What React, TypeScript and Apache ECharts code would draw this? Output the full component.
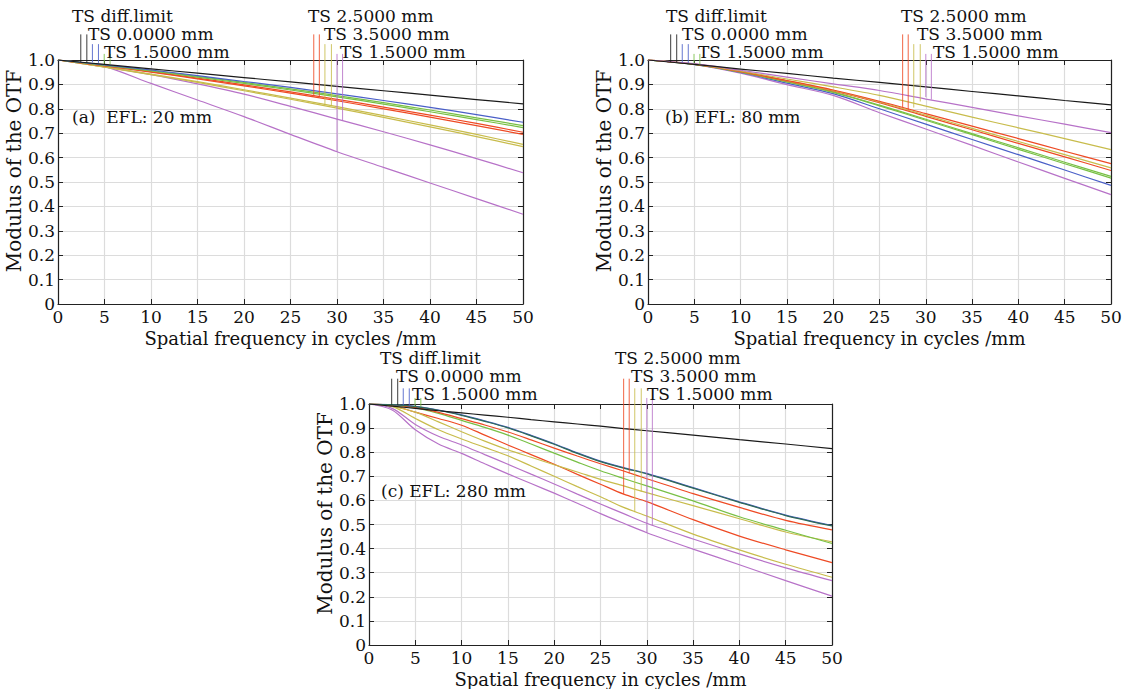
import React, { useEffect, useRef } from "react";
import * as echarts from "echarts";

// ---------- data ----------
const xA = [0, 5, 10, 15, 20, 25, 30, 35, 40, 45, 50];
const aDiff = [1, 0.982, 0.964, 0.946, 0.928, 0.910, 0.892, 0.874, 0.856, 0.838, 0.82];
const aBlue = [1, 0.980, 0.959, 0.936, 0.912, 0.888, 0.861, 0.834, 0.806, 0.776, 0.745];
const aGreen1 = [1, 0.979, 0.957, 0.933, 0.908, 0.882, 0.854, 0.825, 0.795, 0.763, 0.731];
const aGreen2 = [1, 0.978, 0.955, 0.930, 0.904, 0.877, 0.849, 0.819, 0.788, 0.756, 0.723];
const aRed1 = [1, 0.977, 0.952, 0.926, 0.898, 0.869, 0.839, 0.807, 0.774, 0.740, 0.704];
const aRed2 = [1, 0.976, 0.950, 0.923, 0.894, 0.864, 0.833, 0.800, 0.766, 0.731, 0.695];
const aYellow1 = [1, 0.972, 0.942, 0.911, 0.878, 0.844, 0.809, 0.772, 0.734, 0.695, 0.654];
const aYellow2 = [1, 0.971, 0.940, 0.908, 0.874, 0.839, 0.803, 0.765, 0.726, 0.686, 0.645];
const aPurple1 = [1, 0.972, 0.940, 0.902, 0.860, 0.810, 0.758, 0.706, 0.652, 0.596, 0.538];
const aPurple2 = [1, 0.973, 0.904, 0.836, 0.768, 0.695, 0.624, 0.560, 0.496, 0.432, 0.368];

const xB = [0, 5, 10, 15, 20, 25, 30, 35, 40, 45, 50];
const bDiff = [1, 0.982, 0.963, 0.945, 0.926, 0.908, 0.890, 0.871, 0.853, 0.834, 0.816];
const bPurple1 = [1, 0.985, 0.958, 0.930, 0.902, 0.875, 0.840, 0.806, 0.771, 0.737, 0.702];
const bYellow1 = [1, 0.984, 0.955, 0.922, 0.890, 0.855, 0.811, 0.766, 0.722, 0.678, 0.633];
const bRed1 = [1, 0.983, 0.953, 0.916, 0.877, 0.831, 0.780, 0.729, 0.678, 0.626, 0.575];
const bYellow2 = [1, 0.983, 0.953, 0.915, 0.875, 0.828, 0.774, 0.720, 0.666, 0.612, 0.558];
const bRed2 = [1, 0.983, 0.952, 0.914, 0.873, 0.825, 0.769, 0.714, 0.658, 0.603, 0.547];
const bGreen1 = [1, 0.982, 0.951, 0.911, 0.869, 0.815, 0.757, 0.698, 0.640, 0.581, 0.523];
const bGreen2 = [1, 0.982, 0.950, 0.910, 0.867, 0.812, 0.753, 0.694, 0.634, 0.575, 0.516];
const bBlue = [1, 0.982, 0.949, 0.905, 0.862, 0.800, 0.737, 0.674, 0.612, 0.549, 0.486];
const bPurple2 = [1, 0.981, 0.946, 0.899, 0.855, 0.784, 0.717, 0.650, 0.582, 0.515, 0.448];

const xC = [0, 2.5, 5, 7.5, 10, 12.5, 15, 17.5, 20, 22.5, 25, 27.5, 30, 35, 40, 45, 50];
const cDiff = [1, 0.991, 0.982, 0.972, 0.963, 0.954, 0.945, 0.935, 0.926, 0.917, 0.908, 0.898, 0.889, 0.871, 0.852, 0.834, 0.815];
const cBlue = [1, 0.997, 0.990, 0.975, 0.955, 0.930, 0.903, 0.870, 0.835, 0.797, 0.763, 0.736, 0.712, 0.653, 0.594, 0.539, 0.496];
const cGreen1 = [1, 0.997, 0.989, 0.974, 0.953, 0.928, 0.901, 0.868, 0.833, 0.795, 0.761, 0.734, 0.710, 0.651, 0.592, 0.537, 0.494];
const cRed1 = [1, 0.996, 0.986, 0.965, 0.939, 0.913, 0.884, 0.851, 0.817, 0.784, 0.752, 0.722, 0.690, 0.628, 0.571, 0.517, 0.478];
const cGreen2 = [1, 0.995, 0.984, 0.961, 0.932, 0.903, 0.871, 0.834, 0.796, 0.759, 0.723, 0.691, 0.660, 0.598, 0.532, 0.476, 0.421];
const cYellow1 = [1, 0.990, 0.966, 0.926, 0.885, 0.846, 0.810, 0.779, 0.748, 0.718, 0.687, 0.660, 0.632, 0.578, 0.524, 0.469, 0.428];
const cRed2 = [1, 0.994, 0.966, 0.940, 0.912, 0.871, 0.830, 0.790, 0.750, 0.708, 0.667, 0.626, 0.595, 0.520, 0.452, 0.395, 0.342];
const cYellow2 = [1, 0.990, 0.940, 0.893, 0.855, 0.820, 0.785, 0.743, 0.700, 0.657, 0.615, 0.571, 0.535, 0.460, 0.395, 0.335, 0.281];
const cPurple1 = [1, 0.982, 0.915, 0.866, 0.830, 0.790, 0.750, 0.709, 0.668, 0.626, 0.585, 0.545, 0.505, 0.440, 0.378, 0.320, 0.267];
const cPurple2 = [1, 0.975, 0.893, 0.834, 0.795, 0.752, 0.710, 0.670, 0.630, 0.588, 0.545, 0.505, 0.466, 0.398, 0.333, 0.267, 0.203];

// legend tick marks: x positions, top values and bottom values per panel
const tickXLeft = [2.45, 3.1, 3.7, 4.35, 4.97, 5.6];
const tickXRight = [27.5, 28.1, 28.7, 29.4, 30.0, 30.6];
const tickTops = [1.105, 1.105, 1.065, 1.065, 1.025, 1.025];
const aTickBottomsLeft = [0.992, 0.99, 0.99, 0.988, 0.985, 0.982];
const aTickBottomsRight = [0.85, 0.848, 0.816, 0.812, 0.624, 0.75];
const bTickBottomsLeft = [0.992, 0.99, 0.99, 0.988, 0.985, 0.982];
const bTickBottomsRight = [0.806, 0.793, 0.805, 0.83, 0.848, 0.838];
const cTickBottomsLeft = [0.997, 0.996, 0.995, 0.993, 0.99, 0.988];
const cTickBottomsRight = [0.626, 0.712, 0.551, 0.635, 0.466, 0.496];

const legendLeft = ["TS diff.limit", "TS 0.0000 mm", "TS 1.5000 mm"];
const legendRight = ["TS 2.5000 mm", "TS 3.5000 mm", "TS 1.5000 mm"];
const panelTitles = ["(a)  EFL: 20 mm", "(b) EFL: 80 mm", "(c) EFL: 280 mm"];
const xTitle = "Spatial frequency in cycles /mm";
const yTitle = "Modulus of the OTF";

const C = {
  black: "#1a1a1a",
  blue: "#4a5fc8",
  green: "#78c045",
  red: "#ee4a24",
  yellow: "#c8bc4c",
  purple: "#b772c8",
};
const tickColors = [C.black, C.black, C.blue, C.blue, C.green, C.green];
const tickColorsR = [C.red, C.red, C.yellow, C.yellow, C.purple, C.purple];

const FONT = "DejaVu Serif";

export default function App() {
  const ref = useRef<HTMLDivElement>(null);
  useEffect(() => {
    if (!ref.current) return;
    const chart = echarts.init(ref.current, null, { renderer: "svg" });

    const grids = [
      { left: 58, top: 60, width: 465, height: 244 },
      { left: 648, top: 60, width: 463, height: 244 },
      { left: 369, top: 404, width: 463, height: 244 },
    ];

    const xAxes: any[] = [];
    const yAxes: any[] = [];
    grids.forEach((g, i) => {
      xAxes.push({
        type: "value", gridIndex: i, min: 0, max: 50, interval: 5, position: "bottom",
        axisLine: { show: true, onZero: false, lineStyle: { color: "#222", width: 1.2 } },
        axisTick: { show: true, inside: true, length: 5, lineStyle: { color: "#222" } },
        axisLabel: { color: "#111", fontFamily: FONT, fontSize: 17, margin: 4 },
        splitLine: { show: true, lineStyle: { color: "#dcdcdc", width: 1.2 } },
        name: xTitle, nameLocation: "middle", nameGap: 25,
        nameTextStyle: { color: "#111", fontFamily: FONT, fontSize: 18 },
      });
      xAxes.push({
        type: "value", gridIndex: i, min: 0, max: 50, interval: 5, position: "top",
        axisLine: { show: true, onZero: false, lineStyle: { color: "#222", width: 1.2 } },
        axisTick: { show: true, inside: true, length: 5, lineStyle: { color: "#222" } },
        axisLabel: { show: false }, splitLine: { show: false },
      });
      yAxes.push({
        type: "value", gridIndex: i, min: 0, max: 1, interval: 0.1, position: "left",
        axisLine: { show: true, onZero: false, lineStyle: { color: "#222", width: 1.2 } },
        axisTick: { show: true, inside: true, length: 5, lineStyle: { color: "#222" } },
        axisLabel: {
          color: "#111", fontFamily: FONT, fontSize: 17, margin: 3,
          formatter: (v: number) => (v === 0 ? "0" : v.toFixed(1)),
        },
        splitLine: { show: true, lineStyle: { color: "#dcdcdc", width: 1.2 } },
        name: yTitle, nameLocation: "middle", nameGap: 30, nameRotate: 90,
        nameTextStyle: { color: "#111", fontFamily: FONT, fontSize: 20, padding: [0, 0, 0, 22] },
      });
      yAxes.push({
        type: "value", gridIndex: i, min: 0, max: 1, interval: 0.1, position: "right",
        axisLine: { show: true, onZero: false, lineStyle: { color: "#222", width: 1.2 } },
        axisTick: { show: true, inside: true, length: 5, lineStyle: { color: "#222" } },
        axisLabel: { show: false }, splitLine: { show: false },
      });
    });

    const mk = (panel: number, xs: number[], ys: number[], color: string, width = 1.2) => ({
      type: "line",
      xAxisIndex: panel * 2,
      yAxisIndex: panel * 2,
      data: xs.map((x, i) => [x, ys[i]]),
      showSymbol: false,
      symbol: "none",
      smooth: 0.3,
      lineStyle: { color, width },
      z: 3,
    });

    const tickSeries = (panel: number, bottomsL: number[], bottomsR: number[]) => {
      const data: any[] = [];
      tickXLeft.forEach((x, i) => data.push([x, tickTops[i], bottomsL[i], tickColors[i]]));
      tickXRight.forEach((x, i) => data.push([x, tickTops[i], bottomsR[i], tickColorsR[i]]));
      return {
        type: "custom",
        xAxisIndex: panel * 2,
        yAxisIndex: panel * 2,
        clip: false,
        data,
        z: 4,
        renderItem: (params: any, api: any) => {
          const x = api.value(0);
          const p1 = api.coord([x, api.value(1)]);
          const p2 = api.coord([x, api.value(2)]);
          const d = data[params.dataIndex];
          return {
            type: "line",
            shape: { x1: p1[0], y1: p1[1], x2: p2[0], y2: p2[1] },
            style: { stroke: d[3], lineWidth: 1, opacity: 0.85 },
          };
        },
      };
    };

    const series: any[] = [
      mk(0, xA, aPurple2, C.purple), mk(0, xA, aPurple1, C.purple),
      mk(0, xA, aYellow2, C.yellow), mk(0, xA, aYellow1, C.yellow),
      mk(0, xA, aRed2, C.red), mk(0, xA, aRed1, C.red),
      mk(0, xA, aGreen2, C.green), mk(0, xA, aGreen1, C.green),
      mk(0, xA, aBlue, C.blue), mk(0, xA, aDiff, C.black),
      tickSeries(0, aTickBottomsLeft, aTickBottomsRight),

      mk(1, xB, bPurple2, C.purple), mk(1, xB, bBlue, C.blue),
      mk(1, xB, bGreen2, C.green), mk(1, xB, bGreen1, C.green),
      mk(1, xB, bRed2, C.red), mk(1, xB, bYellow2, C.yellow),
      mk(1, xB, bRed1, C.red), mk(1, xB, bYellow1, C.yellow),
      mk(1, xB, bPurple1, C.purple), mk(1, xB, bDiff, C.black),
      tickSeries(1, bTickBottomsLeft, bTickBottomsRight),

      mk(2, xC, cPurple2, C.purple), mk(2, xC, cPurple1, C.purple),
      mk(2, xC, cYellow2, C.yellow), mk(2, xC, cRed2, C.red),
      mk(2, xC, cYellow1, C.yellow), mk(2, xC, cGreen2, C.green),
      mk(2, xC, cRed1, C.red), mk(2, xC, cBlue, C.blue),
      mk(2, xC, cGreen1, "#2f6a55"), mk(2, xC, cDiff, C.black),
      tickSeries(2, cTickBottomsLeft, cTickBottomsRight),
    ];

    const textStyle = { fill: "#111", font: `17px '${FONT}'`, lineHeight: 15 };
    const graphic: any[] = [];
    const legendOffsets = [
      { l: 14, r: 250, t: [-45, -27, -9] },
      { l: 18, r: 253, t: [-45, -27, -9] },
      { l: 11, r: 246, t: [-47, -29, -11] },
    ];
    grids.forEach((g, i) => {
      const o = legendOffsets[i];
      legendLeft.forEach((s, k) =>
        graphic.push({
          type: "text", left: g.left + o.l + k * 16, top: g.top + o.t[k] - 8,
          style: { text: s, ...textStyle }, z: 10,
        })
      );
      legendRight.forEach((s, k) =>
        graphic.push({
          type: "text", left: g.left + o.r + k * 16, top: g.top + o.t[k] - 8,
          style: { text: s, ...textStyle }, z: 10,
        })
      );
    });
    graphic.push({ type: "text", left: 72, top: 108, style: { text: panelTitles[0], ...textStyle }, z: 10 });
    graphic.push({ type: "text", left: 665, top: 108, style: { text: panelTitles[1], ...textStyle }, z: 10 });
    graphic.push({ type: "text", left: 381, top: 482, style: { text: panelTitles[2], ...textStyle }, z: 10 });

    chart.setOption({
      animation: false,
      backgroundColor: "#fff",
      grid: grids.map((g) => ({ ...g, containLabel: false })),
      xAxis: xAxes,
      yAxis: yAxes,
      series,
      graphic,
    });
    return () => chart.dispose();
  }, []);
  return (
    <div
      ref={ref}
      style={{ position: "fixed", left: 0, top: 0, width: 1133, height: 689 }}
    />
  );
}
